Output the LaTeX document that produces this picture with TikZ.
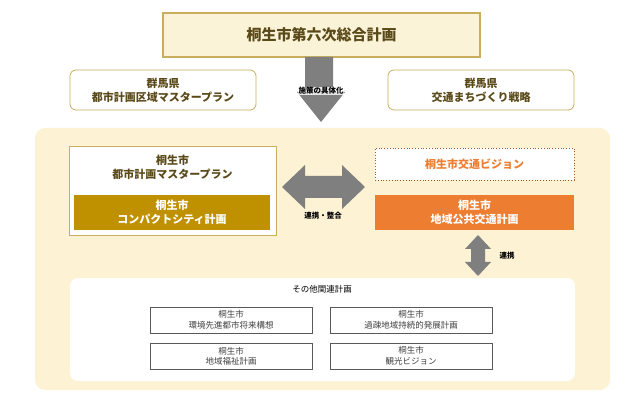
\documentclass[tikz,border=0pt]{standalone}
\usepackage{fontspec}
\setmainfont{Noto Sans CJK JP}
\usetikzlibrary{positioning}
\definecolor{creamfill}{HTML}{FDF2D3}
\definecolor{topfill}{HTML}{FBF3D8}
\definecolor{goldline}{HTML}{C9AE5E}
\definecolor{goldfill}{HTML}{BF9000}
\definecolor{orangefill}{HTML}{ED7D31}
\definecolor{arrowgray}{HTML}{7F7F7F}
\definecolor{titletext}{HTML}{5A4A1A}
\tikzset{
  kenbox/.style={draw=goldline, line width=0.8pt, rounded corners=6pt, fill=white,
    minimum width=186pt, minimum height=40pt, align=center, font=\bfseries\fontsize{11}{14}\selectfont, text=titletext},
  subbox/.style={draw=black!65, line width=0.5pt, fill=white, minimum width=162pt,
    minimum height=26pt, align=center, font=\fontsize{8.5}{10.5}\selectfont, text=black!75},
  colbox/.style={minimum width=199pt, minimum height=35pt, align=center,
    font=\bfseries\fontsize{11}{14}\selectfont, text=white},
  tag/.style={font=\bfseries\fontsize{7.5}{9}\selectfont}
}
\begin{document}
\begin{tikzpicture}[x=1pt,y=-1pt]
  \useasboundingbox (0,0) rectangle (640,406);

  % background area
  \fill[creamfill, rounded corners=10pt] (35,128) rectangle (610,390);
  \fill[white, rounded corners=8pt] (70,278) rectangle (575,381);

  % top plan
  \node[draw=goldline, double=goldline, double distance=0.6pt, line width=0.6pt, fill=topfill,
    minimum width=317pt, minimum height=44pt, font=\bfseries\fontsize{15}{17}\selectfont, text=titletext]
    (sogo) at (321.5,35) {桐生市第六次総合計画};

  \node[kenbox] (kenmp) at (163,90) {群馬県\\都市計画区域マスタープラン};
  \node[kenbox] (kenkotsu) at (481,90) {群馬県\\交通まちづくり戦略};

  % down arrow
  \fill[arrowgray] (305,57) -- (333,57) -- (333,92) -- (345,92) -- (321,122)
    -- (297,92) -- (305,92) -- cycle;
  \node[tag, fill=white, fill opacity=0.8, text opacity=1, inner sep=0.5pt] (gutai) at (321,91) {施策の具体化};

  % city master plan
  \node[draw=goldline, line width=0.8pt, fill=white, minimum width=207pt, minimum height=89pt]
    (toshimp) at (172.5,190.5) {};
  \node[font=\bfseries\fontsize{11}{14}\selectfont, align=center, text=titletext]
    (toshimptxt) at (172.5,167) {桐生市\\都市計画マスタープラン};
  \node[colbox, fill=goldfill, minimum width=196pt] (compact) at (172,212.5) {桐生市\\コンパクトシティ計画};

  % transport side
  \node[draw=orangefill!70!black, dotted, line width=0.8pt, fill=white, minimum width=199pt,
    minimum height=32pt, font=\bfseries\fontsize{11}{14}\selectfont, text=orangefill]
    (vision) at (474.5,164) {桐生市交通ビジョン};
  \node[colbox, fill=orangefill] (chiiki) at (474.5,212.5) {桐生市\\地域公共交通計画};

  % horizontal double arrow
  \fill[arrowgray] (282,187) -- (305,165) -- (305,176) -- (342,176) -- (342,165)
    -- (365,187) -- (342,209) -- (342,198) -- (305,198) -- (305,209) -- cycle;
  \node[tag] (renkei) at (323,216) {連携・整合};

  % vertical double arrow
  \fill[arrowgray] (478,235) -- (491,249) -- (485,249) -- (485,262) -- (491,262)
    -- (478,276) -- (465,262) -- (471,262) -- (471,249) -- (465,249) -- cycle;
  \node[tag] (renkei2) at (507,256) {連携};

  % other plans
  \node[font=\fontsize{8.5}{10}\selectfont] (sonota) at (322,289) {その他関連計画};
  \node[subbox] (kankyo) at (231,320) {桐生市\\環境先進都市将来構想};
  \node[subbox] (kaso) at (411,320) {桐生市\\過疎地域持続的発展計画};
  \node[subbox] (fukushi) at (231,356) {桐生市\\地域福祉計画};
  \node[subbox] (kanko) at (411,356) {桐生市\\観光ビジョン};
\end{tikzpicture}
\end{document}
